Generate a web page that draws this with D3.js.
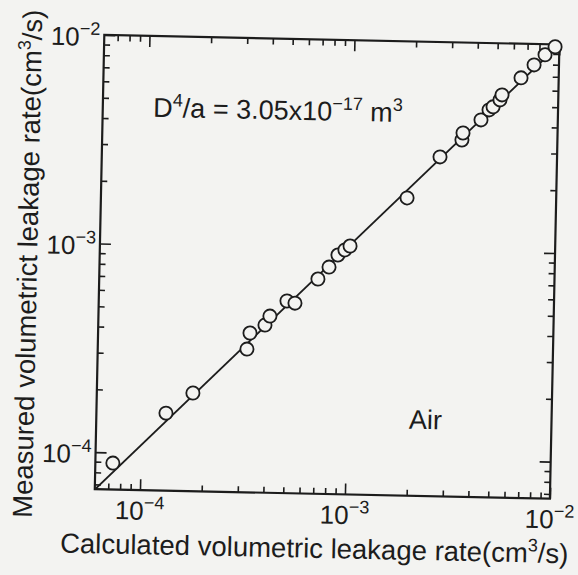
<!DOCTYPE html>
<html>
<meta charset="utf-8">
<style>
body {
  margin: 0;
  background: #f3f3f1;
  font-family: "Liberation Sans", Arial, Helvetica, sans-serif;
}
svg {
  display: block;
}
text {
  font-family: "Liberation Sans", Arial, Helvetica, sans-serif;
  fill: #1c1c1c;
}
.axis path {
  display: none;
}
.axis line {
  stroke: #1c1c1c;
  stroke-width: 1.6;
}
</style>
<body>
<script src="https://d3js.org/d3.v7.min.js"></script>
<script>
// calculated vs measured leakage rate, cm3/s
var calcRate = [7.33e-5, 1.315e-4, 1.771e-4, 3.216e-4, 3.315e-4, 3.915e-4, 4.13e-4, 4.983e-4, 5.455e-4,
                7.02e-4, 7.93e-4, 8.74e-4, 9.44e-4, 9.99e-4, 1.874e-3, 2.687e-3, 3.423e-3, 3.459e-3,
                4.22e-3, 4.607e-3, 4.818e-3, 5.2e-3, 5.313e-3, 6.55e-3, 7.56e-3, 8.53e-3, 9.53e-3];
var measRate = [8.89e-5, 1.562e-4, 1.962e-4, 3.228e-4, 3.856e-4, 4.226e-4, 4.67e-4, 5.54e-4, 5.42e-4,
                7.11e-4, 8.13e-4, 9.31e-4, 9.86e-4, 1.031e-3, 1.776e-3, 2.814e-3, 3.41e-3, 3.684e-3,
                4.273e-3, 4.782e-3, 4.949e-3, 5.354e-3, 5.66e-3, 6.86e-3, 7.94e-3, 8.9e-3, 9.74e-3];
var fitX = [6.0e-5, 1.0e-2];
var fitY = [6.6e-5, 1.0e-2];
var xDecades = [1e-4, 1e-3, 1e-2];
var yDecades = [1e-4, 1e-3, 1e-2];
var xExp = ["\u22124", "\u22123", "\u22122"];
var yExp = ["\u22124", "\u22123", "\u22122"];
var xTitle = "Calculated volumetric leakage rate(cm";
var yTitle = "Measured volumetrict leakage rate(cm";
var gasLabel = "Air";

var width = 578, height = 575;
var pl = 99.5, pr = 554.7, pt = 39.7, pb = 494;
var ink = "#1c1c1c", paper = "#f3f3f1";

var x = d3.scaleLog().domain([6.02e-5, 1e-2]).range([pl, pr]);
var y = d3.scaleLog().domain([6.64e-5, 1e-2]).range([pb, pt]);

function minors(scale) {
  var d = scale.domain(), out = [];
  for (var e = -5; e <= -2; e++) {
    for (var m = 2; m <= 9; m++) {
      var v = m * Math.pow(10, e);
      if (v >= d[0] * 0.999 && v <= d[1] * 1.001) out.push(v);
    }
  }
  return out;
}

var svg = d3.select("body").append("svg")
    .attr("width", width)
    .attr("height", height);

// the scan is turned a little clockwise
var g = svg.append("g")
    .attr("transform", "rotate(1.2,327,267)");

g.append("clipPath").attr("id", "plotclip")
  .append("rect")
    .attr("x", pl).attr("y", pt)
    .attr("width", pr - pl).attr("height", pb - pt);

// ticks, all pointing in
function ticks(axis, tx, ty, vals, len) {
  g.append("g").attr("class", "axis")
      .attr("transform", "translate(" + tx + "," + ty + ")")
      .call(axis.tickValues(vals).tickSize(-len).tickFormat(""));
}
ticks(d3.axisBottom(x), 0, pb, minors(x), 6);
ticks(d3.axisBottom(x), 0, pb, xDecades, 11);
ticks(d3.axisTop(x), 0, pt, minors(x), 6);
ticks(d3.axisTop(x), 0, pt, xDecades, 11);
ticks(d3.axisLeft(y), pl, 0, minors(y), 6);
ticks(d3.axisLeft(y), pl, 0, yDecades, 11);
ticks(d3.axisRight(y), pr, 0, minors(y), 6);
ticks(d3.axisRight(y), pr, 0, yDecades, 11);

g.append("rect")
    .attr("x", pl).attr("y", pt)
    .attr("width", pr - pl).attr("height", pb - pt)
    .attr("fill", "none")
    .attr("stroke", ink)
    .attr("stroke-width", 2.2);

g.append("path")
    .datum(fitX.map(function(v, i) { return [v, fitY[i]]; }))
    .attr("clip-path", "url(#plotclip)")
    .attr("fill", "none")
    .attr("stroke", ink)
    .attr("stroke-width", 1.8)
    .attr("d", d3.line().x(function(d) { return x(d[0]); }).y(function(d) { return y(d[1]); }));

g.selectAll(".pt")
    .data(calcRate.map(function(v, i) { return [v, measRate[i]]; }))
  .enter().append("circle")
    .attr("class", "pt")
    .attr("cx", function(d) { return x(d[0]); })
    .attr("cy", function(d) { return y(d[1]); })
    .attr("r", 6.6)
    .attr("fill", paper)
    .attr("stroke", ink)
    .attr("stroke-width", 1.8);

// decade labels
var xl = g.selectAll(".xlab")
    .data(xDecades)
  .enter().append("text")
    .attr("class", "xlab")
    .attr("x", function(d) { return x(d); })
    .attr("y", 523.5)
    .attr("text-anchor", "middle")
    .attr("font-size", "26px");
xl.append("tspan").text("10");
xl.append("tspan").attr("dy", -11).attr("font-size", "18px").text(function(d, i) { return xExp[i]; });

var yl = g.selectAll(".ylab")
    .data(yDecades)
  .enter().append("text")
    .attr("class", "ylab")
    .attr("x", pl - 4)
    .attr("y", function(d) { return y(d) + 11; })
    .attr("text-anchor", "end")
    .attr("font-size", "26px");
yl.append("tspan").text("10");
yl.append("tspan").attr("dy", -11).attr("font-size", "18px").text(function(d, i) { return yExp[i]; });

// axis titles
var xt = g.append("text")
    .attr("x", 66)
    .attr("y", 558)
    .attr("font-size", "27.5px")
    .text(xTitle);
xt.append("tspan").attr("dy", -11).attr("font-size", "18px").text("3");
xt.append("tspan").attr("dy", 11).text("/s)");

var yt = g.append("text")
    .attr("transform", "translate(37,270) rotate(-90)")
    .attr("text-anchor", "middle")
    .attr("font-size", "27.5px")
    .text(yTitle);
yt.append("tspan").attr("dy", -11).attr("font-size", "18px").text("3");
yt.append("tspan").attr("dy", 11).text("/s)");

// annotations
var eq = g.append("text")
    .attr("x", 150)
    .attr("y", 120.5)
    .attr("font-size", "27px")
    .text("D");
eq.append("tspan").attr("dy", -11).attr("font-size", "18px").text("4");
eq.append("tspan").attr("dy", 11).text("/a = 3.05x10");
eq.append("tspan").attr("dy", -11).attr("font-size", "18px").text("\u221217");
eq.append("tspan").attr("dy", 11).text(" m");
eq.append("tspan").attr("dy", -11).attr("font-size", "18px").text("3");

g.append("text")
    .attr("x", 412)
    .attr("y", 427)
    .attr("font-size", "27px")
    .text(gasLabel);
</script>
</body>
</html>
